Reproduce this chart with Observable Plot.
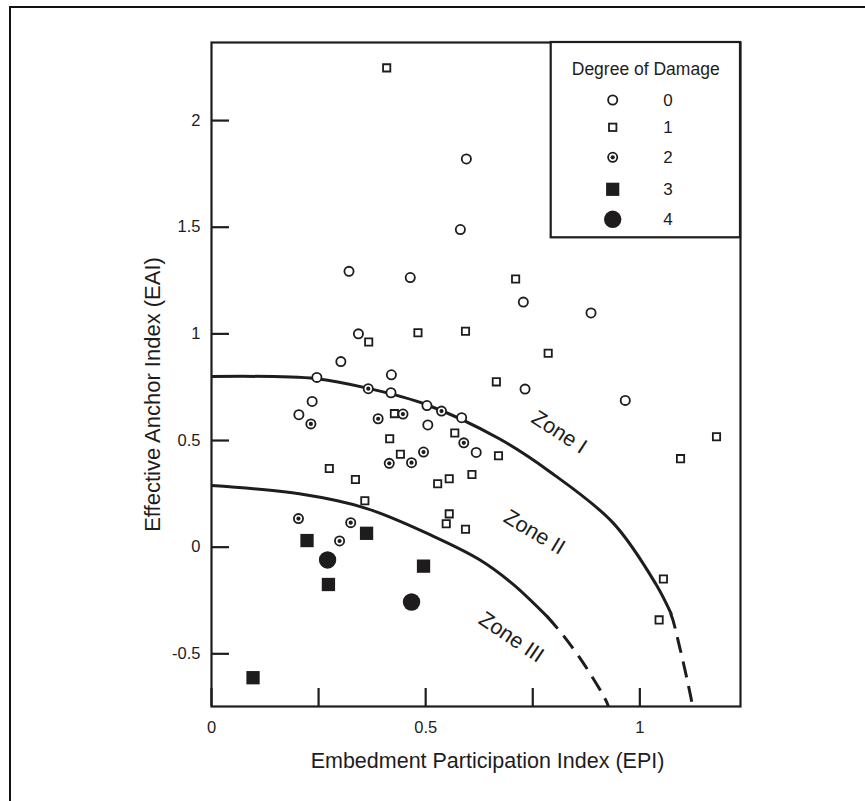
<!DOCTYPE html>
<html><head><meta charset="utf-8">
<script src="https://cdn.jsdelivr.net/npm/d3@7"></script>
<script src="https://cdn.jsdelivr.net/npm/@observablehq/plot@0.6"></script>
<style>
html,body{margin:0;padding:0;background:#fff;}
#wrap{position:relative;width:865px;height:801px;overflow:hidden;font-family:"Liberation Sans",Arial,Helvetica,sans-serif;}
#border{position:absolute;left:9px;top:6px;width:900px;height:900px;border-left:2.5px solid #111;border-top:2.5px solid #111;}
#chart{position:absolute;left:0;top:0;}
</style></head><body>
<div id="wrap"><div id="border"></div><div id="chart"></div></div>
<script>
// ---- data ----
const xTitle = "Embedment Participation Index (EPI)";
const yTitle = "Effective Anchor Index (EAI)";
const legendTitle = "Degree of Damage";
const degreeLabels = ["0", "1", "2", "3", "4"];
const xTickValues = [0, 0.25, 0.5, 0.75, 1];
const xLabelValues = [0, 0.5, 1];
const yTickValues = [-0.5, 0, 0.5, 1, 1.5, 2];

// Degree of damage 0 (open circles): [EPI, EAI]
const damage0 = [
  [0.595, 1.820], [0.581, 1.489], [0.321, 1.293], [0.464, 1.264], [0.728, 1.149],
  [0.886, 1.098], [0.343, 1.000], [0.302, 0.870], [0.246, 0.796], [0.420, 0.808],
  [0.419, 0.724], [0.235, 0.683], [0.732, 0.741], [0.966, 0.688], [0.503, 0.664],
  [0.584, 0.607], [0.204, 0.621], [0.505, 0.573], [0.618, 0.444]
];
// Degree 1 (open squares)
const damage1 = [
  [0.409, 2.247], [0.710, 1.257], [0.482, 1.005], [0.593, 1.012], [0.367, 0.962],
  [0.786, 0.909], [0.665, 0.775], [0.427, 0.626], [0.568, 0.535], [0.416, 0.508],
  [0.670, 0.429], [0.441, 0.436], [0.275, 0.369], [0.336, 0.317], [0.608, 0.341],
  [0.555, 0.321], [0.528, 0.297], [0.358, 0.218], [0.555, 0.156], [0.548, 0.110],
  [0.593, 0.084], [1.179, 0.518], [1.095, 0.415], [1.055, -0.149], [1.045, -0.341]
];
// Degree 2 (dotted circles)
const damage2 = [
  [0.366, 0.743], [0.389, 0.602], [0.447, 0.624], [0.537, 0.638], [0.232, 0.578],
  [0.589, 0.489], [0.495, 0.446], [0.415, 0.393], [0.467, 0.396], [0.203, 0.134],
  [0.325, 0.115], [0.299, 0.029]
];
// Degree 3 (filled squares)
const damage3 = [
  [0.223, 0.031], [0.362, 0.065], [0.495, -0.089], [0.273, -0.175], [0.097, -0.612]
];
// Degree 4 (filled circles)
const damage4 = [
  [0.271, -0.060], [0.467, -0.257]
];

// Zone boundaries
const zone1Solid = [[0, 0.800], [0.244, 0.790], [0.369, 0.743], [0.501, 0.669], [0.672, 0.508],
  [0.789, 0.355], [0.937, 0.115], [1.038, -0.175], [1.073, -0.312]];
const zone1Dashed = [[1.038, -0.175], [1.073, -0.312], [1.092, -0.453], [1.120, -0.703], [1.126, -0.770]];
const zone2Solid = [[0, 0.289], [0.205, 0.250], [0.361, 0.182], [0.517, 0.052], [0.626, -0.059],
  [0.703, -0.172], [0.785, -0.328]];
const zone2Dashed = [[0.703, -0.172], [0.785, -0.328], [0.859, -0.516], [0.925, -0.734], [0.930, -0.770]];

const zoneNames = ["Zone I", "Zone II", "Zone III"];
const zoneX = [0.812, 0.754, 0.700];
const zoneY = [0.539, 0.070, -0.422];
const zoneAngle = [33, 31, 34];

// ---- build ----
const ink = "#1e1c1d";
const font = '"Liberation Sans", Arial, Helvetica, sans-serif';
const pts = a => a.map(([x, y]) => ({x, y}));
const zones = zoneNames.map((t, i) => ({t, x: zoneX[i], y: zoneY[i], a: zoneAngle[i]}));

const W = 865, H = 801, mL = 211, mR = 125, mT = 42, mB = 95;
const xDomain = [0, 1.235], yDomain = [-0.747, 2.366];
const tickLen = 18;
const xPerPx = (xDomain[1] - xDomain[0]) / (W - mL - mR);
const yPerPx = (yDomain[1] - yDomain[0]) / (H - mT - mB);

const plot = Plot.plot({
  width: W, height: H,
  marginLeft: mL, marginRight: mR, marginTop: mT, marginBottom: mB,
  style: {fontFamily: font, color: ink, background: "transparent", overflow: "visible"},
  x: {domain: xDomain, label: null},
  y: {domain: yDomain, label: null},
  marks: [
    Plot.line(pts(zone1Solid), {x: "x", y: "y", curve: "catmull-rom", stroke: ink, strokeWidth: 3, clip: true}),
    Plot.line(pts(zone2Solid), {x: "x", y: "y", curve: "catmull-rom", stroke: ink, strokeWidth: 3, clip: true}),
    Plot.text(zones, {x: "x", y: "y", text: "t", rotate: "a", fontSize: 21.5, fill: ink, textAnchor: "middle", lineAnchor: "middle"}),
    Plot.dot(pts(damage0), {x: "x", y: "y", r: 4.6, stroke: ink, strokeWidth: 1.8, fill: "white"}),
    Plot.dot(pts(damage1), {x: "x", y: "y", symbol: "square", r: 4.1, stroke: ink, strokeWidth: 1.8, fill: "white"}),
    Plot.dot(pts(damage2), {x: "x", y: "y", r: 4.6, stroke: ink, strokeWidth: 1.8, fill: "white"}),
    Plot.dot(pts(damage2), {x: "x", y: "y", r: 2.1, fill: ink}),
    Plot.dot(pts(damage3), {x: "x", y: "y", symbol: "square", r: 7.5, fill: ink}),
    Plot.dot(pts(damage4), {x: "x", y: "y", r: 8.7, fill: ink}),
    Plot.axisX({ticks: xLabelValues, tickSize: 0, tickPadding: 15, fontSize: 16.5, fill: ink, label: null, tickFormat: d => String(d)}),
    Plot.axisY({ticks: yTickValues, tickSize: 0, tickPadding: 11, fontSize: 16.5, fill: ink, label: null, tickFormat: d => String(d)}),
    Plot.frame({stroke: ink, strokeWidth: 2.2}),
    // inward tick marks
    Plot.ruleX(xTickValues, {x: d => d, y1: yDomain[0], y2: yDomain[0] + tickLen * yPerPx, stroke: ink, strokeWidth: 2.2}),
    Plot.ruleY(yTickValues, {y: d => d, x1: xDomain[0], x2: xDomain[0] + tickLen * xPerPx, stroke: ink, strokeWidth: 2.2}),
    Plot.text([xTitle], {frameAnchor: "bottom", text: d => d, dy: 55, dx: 11.5, fontSize: 21.5, fill: ink, lineAnchor: "middle", textAnchor: "middle"}),
    Plot.text([yTitle], {frameAnchor: "left", text: d => d, dx: -58.6, dy: 20, rotate: -90, fontSize: 22, fill: ink, lineAnchor: "middle", textAnchor: "middle"})
  ]
});
document.getElementById("chart").appendChild(plot);

const svg = d3.select(plot);
const xs = plot.scale("x"), ys = plot.scale("y");
const fxL = mL, fxR = W - mR, fyT = mT, fyB = H - mB;

// dashed continuation of the zone boundaries, drawn with the plot's scales
const dashLine = d3.line().x(d => xs.apply(d[0])).y(d => ys.apply(d[1])).curve(d3.curveCatmullRom);
svg.append("clipPath").attr("id", "frameClip").append("rect")
  .attr("x", fxL).attr("y", fyT).attr("width", fxR - fxL).attr("height", fyB - fyT);
const dashG = svg.append("g").attr("clip-path", "url(#frameClip)");
function dashed(arr) {
  const path = dashG.append("path").attr("d", dashLine(arr)).attr("fill", "none")
    .attr("stroke", ink).attr("stroke-width", 3);
  const tmp = dashG.append("path").attr("d", dashLine(arr.slice(0, 2))).attr("visibility", "hidden");
  const skip = tmp.node().getTotalLength();
  tmp.remove();
  const total = path.node().getTotalLength();
  const pattern = [0, skip];
  let rest = total - skip + 50;
  while (rest > 0) { pattern.push(16, 9); rest -= 25; }
  path.attr("stroke-dasharray", pattern.join(","));
}
dashed(zone1Dashed);
dashed(zone2Dashed);

// ---- legend (inside the plot frame, top right) ----
const lg = svg.append("g").attr("class", "legend");
lg.append("rect").attr("x", 550.7).attr("y", fyT).attr("width", fxR - 550.7).attr("height", 237.3 - fyT)
  .attr("fill", "white").attr("stroke", ink).attr("stroke-width", 2.2);
lg.append("text").attr("x", 645.7).attr("y", 69).attr("dy", "0.35em").attr("text-anchor", "middle")
  .attr("font-size", 17.5).attr("fill", ink).text(legendTitle);
const rowsY = [100, 127.3, 157.3, 189.3, 219.3];
const sx = 612.7;
const sym = lg.append("g");
sym.append("circle").attr("cx", sx).attr("cy", rowsY[0]).attr("r", 4.6).attr("fill", "white").attr("stroke", ink).attr("stroke-width", 1.8);
sym.append("rect").attr("x", sx - 3.7).attr("y", rowsY[1] - 3.7).attr("width", 7.4).attr("height", 7.4).attr("fill", "white").attr("stroke", ink).attr("stroke-width", 1.8);
sym.append("circle").attr("cx", sx).attr("cy", rowsY[2]).attr("r", 4.6).attr("fill", "white").attr("stroke", ink).attr("stroke-width", 1.8);
sym.append("circle").attr("cx", sx).attr("cy", rowsY[2]).attr("r", 2.1).attr("fill", ink);
sym.append("rect").attr("x", sx - 6.6).attr("y", rowsY[3] - 6.6).attr("width", 13.2).attr("height", 13.2).attr("fill", ink);
sym.append("circle").attr("cx", sx).attr("cy", rowsY[4]).attr("r", 8.7).attr("fill", ink);
degreeLabels.forEach((t, i) => {
  lg.append("text").attr("x", 668).attr("y", rowsY[i]).attr("dy", "0.35em").attr("text-anchor", "middle")
    .attr("font-size", 17).attr("fill", ink).text(t);
});
</script>
</body></html>
